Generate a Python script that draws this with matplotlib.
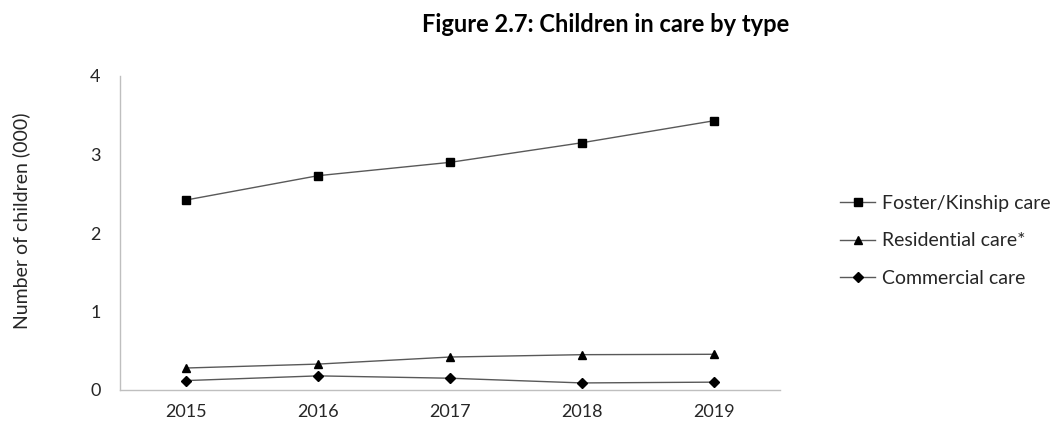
import numpy as np
import matplotlib.pyplot as plt

plt.rcParams['font.family'] = ['Lato', 'DejaVu Sans']

years = ['2015', '2016', '2017', '2018', '2019']
foster = [2.42, 2.73, 2.90, 3.15, 3.43]
residential = [0.28, 0.33, 0.42, 0.45, 0.455]
commercial = [0.12, 0.18, 0.15, 0.09, 0.10]

series = [
    ('Foster/Kinship care', foster, 's'),
    ('Residential care*', residential, '^'),
    ('Commercial care', commercial, 'D'),
]


def main():
    fig = plt.figure(figsize=(10.54, 4.29), dpi=100)
    ax = fig.add_axes([120/1054, 1 - 390/429, (780 - 120)/1054, (390 - 76)/429])

    x = np.arange(len(years))
    for label, vals, mk in series:
        ms = 5.2 if mk == 'D' else 6
        ax.plot(x, vals, color='#595959', lw=1.0, label=label,
                marker=mk, markersize=ms, markerfacecolor='black',
                markeredgecolor='black')

    ax.set_xlim(-0.5, len(years) - 0.5)
    ax.set_ylim(0, 4)
    ax.set_xticks(x)
    ax.set_xticklabels(years)
    ax.set_yticks([0, 1, 2, 3, 4])
    ax.tick_params(axis='both', length=0, labelsize=13, colors='#262626')
    ax.tick_params(axis='y', pad=14)
    ax.tick_params(axis='x', pad=10)

    for side in ['top', 'right']:
        ax.spines[side].set_visible(False)
    for side in ['left', 'bottom']:
        ax.spines[side].set_color('#bfbfbf')
        ax.spines[side].set_linewidth(1.0)

    fig.text(21/1054, 1 - 221/429, 'Number of children (000)', rotation=90,
             ha='center', va='center', fontsize=14, color='#262626')
    fig.text(606/1054, 1 - 24/429, 'Figure 2.7: Children in care by type',
             ha='center', va='center', fontsize=17, fontweight='bold')

    leg = ax.legend(loc='center left', bbox_to_anchor=(840/1054, 1 - 241/429),
                    bbox_transform=fig.transFigure, frameon=False,
                    fontsize=14, handlelength=1.8, handletextpad=0.36,
                    labelspacing=1.05, borderpad=0, borderaxespad=0)
    for t in leg.get_texts():
        t.set_color('#262626')

    fig.savefig('out.png', dpi=100)


if __name__ == '__main__':
    main()
